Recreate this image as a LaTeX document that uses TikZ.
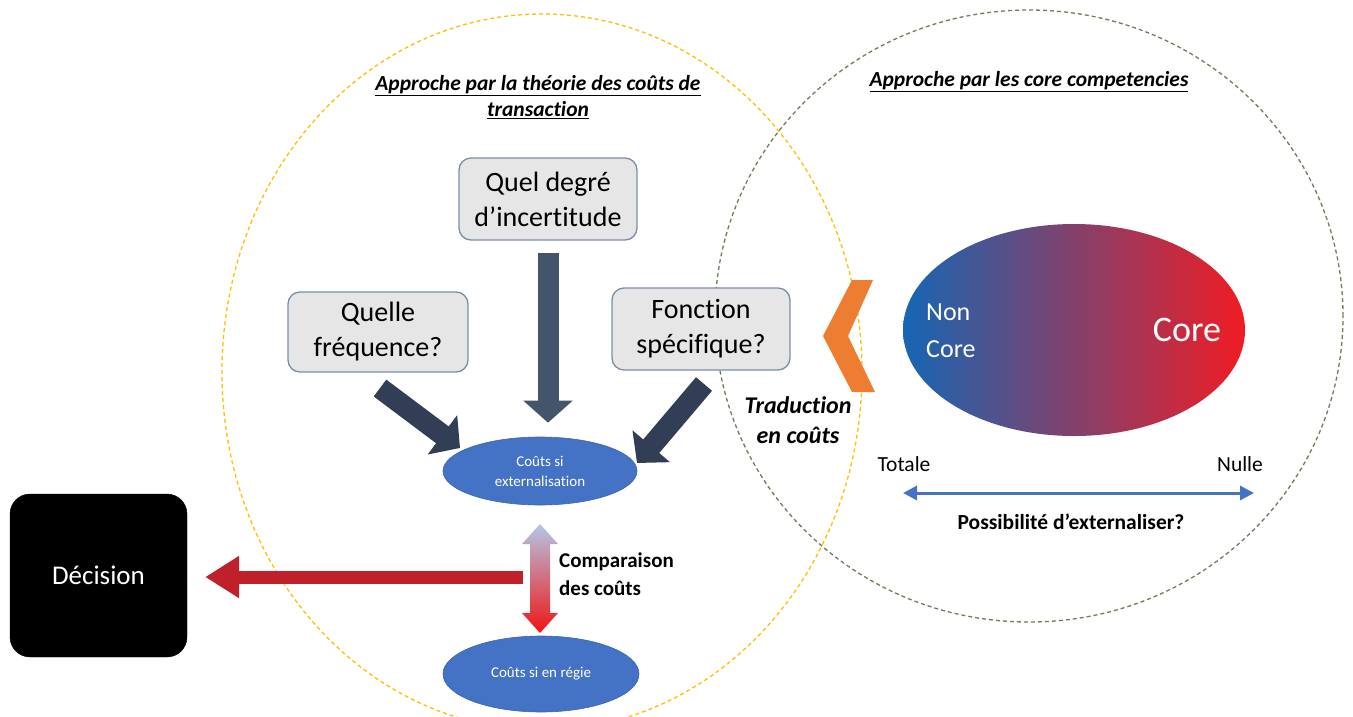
\documentclass[tikz,border=0pt]{standalone}
\usepackage{fontspec}
\setmainfont[Ligatures=NoCommon]{Carlito}
\usetikzlibrary{arrows.meta,shapes.geometric,calc}
\definecolor{boxfill}{RGB}{231,230,230}
\definecolor{boxdraw}{RGB}{124,141,168}
\definecolor{navyA}{RGB}{68,84,106}
\definecolor{navyB}{RGB}{50,62,85}
\definecolor{ellblue}{RGB}{68,114,196}
\definecolor{ellborder}{RGB}{60,100,175}
\definecolor{decred}{RGB}{192,32,42}
\definecolor{orangeC}{RGB}{237,125,49}
\definecolor{yelC}{RGB}{255,192,0}
\definecolor{grnC}{RGB}{112,125,90}
\definecolor{lblue}{RGB}{180,199,231}
\definecolor{midpink}{RGB}{215,165,185}
\definecolor{brightred}{RGB}{240,20,20}
\definecolor{coreL}{RGB}{22,102,180}
\definecolor{coreM}{RGB}{125,48,98}
\definecolor{coreR}{RGB}{240,28,36}
\begin{document}
\begin{tikzpicture}[x=1pt,y=-1pt,
  qbox/.style={draw=boxdraw, line width=1.3pt, fill=boxfill, rounded corners=12pt,
    minimum width=178pt, minimum height=82pt, align=center, inner sep=0pt,
    font=\fontsize{28}{35}\selectfont},
  cost/.style={ellipse, draw=ellborder, line width=0.6pt, fill=ellblue, text=white,
    inner sep=0pt, align=center, font=\fontsize{15}{20}\selectfont},
  fatarrow/.style={line width=21pt, -{Triangle[width=48pt,length=22pt]}},
  head/.style={font=\fontsize{21.5}{26}\selectfont\bfseries\itshape, align=center, inner sep=0pt},
  plain/.style={font=\fontsize{21.5}{26}\selectfont, inner sep=0pt},
  zone/.style={dash pattern=on 4pt off 3pt, line width=1.3pt}
]
\fill[white] (0,0) rectangle (1353,716);
\useasboundingbox (0,0) rectangle (1353,716);
\clip (0,0) rectangle (1353,716);

% zones
\draw[zone, grnC] (1029,316) ellipse [x radius=314pt, y radius=306pt];
\draw[zone, yelC] (542,372) ellipse [x radius=320pt, y radius=358pt];

% headers
\node[head] (h1) at (538,97) {\underline{Approche par la théorie des coûts de}\\\underline{transaction}};
\node[head] (h2) at (1029,82) {\underline{Approche par les core competencies}};

% question boxes
\node[qbox] (q2) at (548,199) {Quel degré\\d’incertitude};
\node[qbox, minimum width=180pt, minimum height=80pt] (q1) at (378,332) {Quelle\\fréquence?};
\node[qbox] (q3) at (701,329) {Fonction\\spécifique?};

% cost ellipses
\node[cost, minimum width=194pt, minimum height=68pt] (ext) at (540,471) {Coûts si\\externalisation};
\node[cost, minimum width=196pt, minimum height=76pt] (reg) at (541,674) {Coûts si en régie};

% fat arrows
\coordinate (a1s) at (380,388);
\coordinate (a1e) at (460,448);
\coordinate (a3s) at (704,384);
\coordinate (a3e) at (637,463);
\draw[fatarrow, navyA, shorten <=12pt, shorten >=14pt] (q2.south) -- (q2.south |- ext.north);
\draw[fatarrow, navyB] (a1s) -- (a1e);
\draw[fatarrow, navyB] (a3s) -- (a3e);

% comparison double arrow
\shade[top color=lblue, middle color=midpink, bottom color=brightred]
  (540,524) -- (558,544) -- (550,544) -- (550,613) -- (558,613) -- (540,633)
  -- (522,613) -- (530,613) -- (530,544) -- (522,544) -- cycle;
\node[font=\fontsize{21}{28}\selectfont\bfseries, align=left, anchor=west, inner sep=0pt] (cmp) at (559,574) {Comparaison\\des coûts};

% decision
\node[draw=black, fill=black, rounded corners=20pt, minimum width=177pt, minimum height=163pt,
  text=white, font=\fontsize{27}{32}\selectfont] (dec) at (98.5,575.5) {Décision};
\coordinate (rs) at (523,577);
\draw[line width=13pt, decred, -{Triangle[width=40pt,length=34pt]}, shorten >=18pt] (rs) -- (dec.east |- rs);

% core competencies
\node[ellipse, minimum width=342pt, minimum height=212pt, left color=coreL, middle color=coreM, right color=coreR, inner sep=0pt] (core) at (1074,330) {};
\node[text=white, font=\fontsize{26}{37}\selectfont, align=left, anchor=west, inner sep=0pt] (nc) at (926,331) {Non\\Core};
\node[text=white, font=\fontsize{36}{40}\selectfont, inner sep=0pt] (cr) at (1187,330) {Core};

% chevron
\fill[orangeC] (873,280) -- (852,280) -- (823,336) -- (852,392) -- (875,392) -- (848,336) -- cycle;
\node[font=\fontsize{24}{30}\selectfont\bfseries\itshape, align=center, inner sep=0pt] (trad) at (798,420) {Traduction\\en coûts};

% scale
\node[plain] (tot) at (904,464) {Totale};
\node[plain] (nul) at (1240,464) {Nulle};
\coordinate (bl) at (903,493);
\coordinate (br) at (1254,493);
\draw[ellblue, line width=3pt, {Triangle[width=14pt,length=14pt]}-{Triangle[width=14pt,length=14pt]}] (bl) -- (br);
\node[font=\fontsize{21.5}{26}\selectfont\bfseries, inner sep=0pt] (poss) at (1071,522) {Possibilité d’externaliser?};
\end{tikzpicture}
\end{document}
